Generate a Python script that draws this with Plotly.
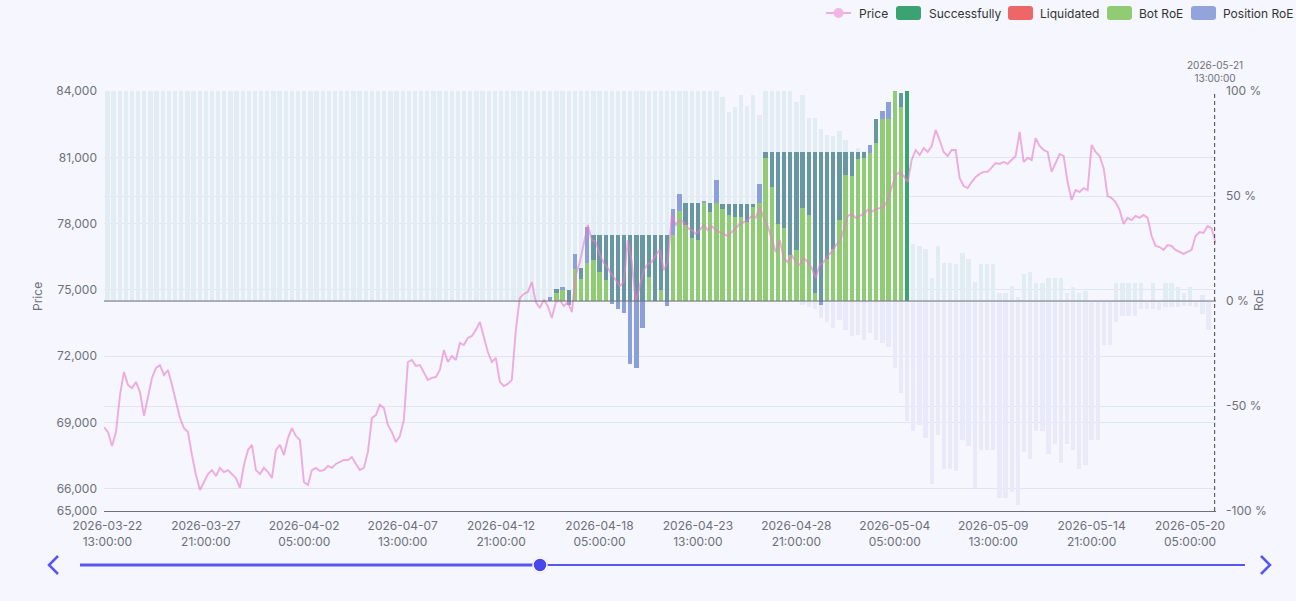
import pandas as pd
import plotly.graph_objects as go

BG = '#f5f6fe'
AXIS = '#6e7079'
GRID = '#e0e6f1'
FONT = 'Inter'

# ---------------- data ----------------
# one slot every 8 hours
slot_start = '2026-03-22 13:00'
n_slots = 181

# faded (background) RoE bars, percent, index = slot
bg_pos = [100] * 100 + [
    97, 90, 92.5, 98, 93, 98, 88.6, 100, 100, 100, 100, 100, 95, 98, 87, 87, 82, 79, 78.6, 81,
    76.7, 71.6, 72.7, 71.6, 74,
    None, None, None, None, None, None,
    27, 26, 25, 11, 26, 18, 18, 17.5, 23, 20, 9, 17.5, 17.5, 17.5, 4, 4, 7, 2, 13, 14,
    8.6, 8.6, 11, 11, 11, 4, 6.6, 4, 5,
    None, None, None, None, 8.6, 8.6, 8.6, 8.6, 8.6, None, 8.6, None, 8.6, 8.6, 6.6, 4, 6.6,
    None, 3, None, None]
bg_neg = [None] * 113 + [
    -2, -3, -4, -8, -10, -12.9, -9, -13.8, -16.7, -16, -18.6, -15, -18.6, -20, -22, -32, -44,
    -57, -62, -59, -65, -87, -64, -80, -80, -81, -66, -69, -89, -71, -71, -71, -94, -94, -91,
    -97, -72, -75, -62, -62, -73, -68, -77, -68, -71, -80, -78, -66, -66, -21, -21, -10, -7,
    -7, -7, -4, -4, -4, -4.5, -3, -3, -3, -2.5, -2.5, -3, -6, -14, None]

# active bots: slots 72 .. 130
active_first = 72
bot_roe = [None, 4.0, 5.2, None, 15.2, 10.5, 18, 19.5, 13.7, 10, None, None, None, None, None,
           None, 11.6, None, 5.2, None, 31.4, 43, 36, 30, 29, 46.5, 42.5, 46.5, 43.7, 41, 40,
           39.8, 37.6, 45, 46.7, 68.2, 54.4, 36.7, 34.6, 21.9, 24.3, 44.1, 41, 3.7, None, 19.8,
           24.6, 38.6, 60, 59.5, 67.5, 68.2, 70.6, 75.4, 86.5, 86.5, 100, 92.5, None]
overlap_roe = [None, 5.6, None, 5.2, None, 15.5, None] + [31.5] * 13 + [None, None, 46.5, 46.5,
               46.5, None, 46.5, None] + [46.3] * 6 + [None] + [71] * 17 + [None, 86.7, None,
               None, None, 98.9, None]
position_roe = [2, None, 6.5, -2, 22.2, None, 35.4, None, None, None, -1.6, -3.8, -5.9, -30, -32,
                -13, None, None, None, -2.4, 44, 51, None, None, None, 47.8, None, 57.6] + \
               [None] * 6 + [55.7] + [None] * 9 + [-2] + [None] * 7 + \
               [74.3, None, 90.5, 94.8, None, None, None]
success_slot = ['2026-05-04 21:00']
success_roe = [100]

# price, sampled every 312 minutes
price_start = '2026-03-22 08:35'
price_values = [
    68800, 68570, 67940, 68570, 70250, 71290, 70700, 70560, 70840, 70380,
    69300, 70110, 71020, 71470, 71600, 71150, 71380, 70700, 70020, 69210,
    68750, 68570, 67530, 66630, 65950, 66310, 66670, 66850, 66580, 66950,
    66760, 66850, 66670, 66490, 66040, 67080, 67760, 67990, 66850, 66670,
    66950, 66760, 66490, 67760, 67990, 67530, 68300, 68750, 68390, 68210,
    66310, 66180, 66850, 66950, 66810, 66850, 67040, 66950, 67130, 67220,
    67310, 67310, 67440, 67130, 66850, 66950, 67670, 69210, 69340, 69800,
    69660, 68890, 68570, 68120, 68390, 69120, 71740, 71830, 71560, 71600,
    71290, 70930, 71020, 71060, 71380, 72280, 71740, 72010, 71830, 72600,
    72510, 72830, 72920, 73190, 73550, 72830, 72190, 71740, 71920, 70840,
    70650, 70750, 70930, 73190, 74640, 74820, 74910, 75360, 74450, 74180,
    74550, 74270, 73730, 74450, 74550, 74270, 74450, 74000, 75680, 76260,
    77030, 77940, 77260, 77170, 76580, 76220, 75990, 75680, 75450, 75180,
    75360, 77260, 76260, 74450, 75180, 75900, 76170, 76260, 76580, 76810,
    75900, 76260, 78390, 77940, 78160, 78070, 77800, 77710, 77530, 77710,
    77940, 77710, 77890, 77710, 77620, 77530, 77440, 77620, 77800, 77980,
    78070, 78160, 78350, 78260, 78750, 78260, 77890, 77260, 76720, 77260,
    76450, 76260, 76580, 76260, 76130, 76450, 76260, 75990, 75540, 76130,
    76260, 76540, 76720, 77030, 77170, 77710, 78350, 78440, 78260, 78350,
    78440, 78620, 78530, 78660, 78710, 78750, 79070, 79610, 80200, 80340,
    80160, 79880, 80880, 81330, 81100, 81420, 81240, 81510, 82240, 81780,
    81240, 81060, 81330, 81330, 80060, 79700, 79610, 79880, 80110, 80250,
    80340, 80340, 80520, 80740, 80700, 80790, 80700, 80880, 81060, 82150,
    80790, 80970, 80880, 81870, 81510, 81330, 81240, 80340, 80790, 81150,
    81060, 79880, 79070, 79520, 79430, 79610, 79520, 81560, 81240, 81060,
    80520, 79250, 79160, 78980, 78620, 77980, 78260, 78160, 78350, 78260,
    78390, 78260, 77440, 76990, 76940, 76810, 77030, 76990, 76810, 76720,
    76630, 76720, 76810, 77440, 77620, 77580, 77890, 77800, 77120]

x_tick_labels = ['2026-03-22 13:00:00', '2026-03-27 21:00:00', '2026-04-02 05:00:00',
                 '2026-04-07 13:00:00', '2026-04-12 21:00:00', '2026-04-18 05:00:00',
                 '2026-04-23 13:00:00', '2026-04-28 21:00:00', '2026-05-04 05:00:00',
                 '2026-05-09 13:00:00', '2026-05-14 21:00:00', '2026-05-20 05:00:00']
price_ticks = [65000, 66000, 69000, 72000, 75000, 78000, 81000, 84000]
roe_ticks = [-100, -50, 0, 50, 100]
now_time = '2026-05-21 13:00:00'

# ---------------- build ----------------
slots = pd.date_range(slot_start, periods=n_slots, freq='8h')
active = slots[active_first:active_first + len(bot_roe)]
price_times = pd.date_range(price_start, periods=len(price_values), freq='312min')
assert len(bg_pos) == n_slots and len(bg_neg) == n_slots
assert len(overlap_roe) == len(bot_roe) == len(position_roe)

BW = 8 * 3600 * 1000 * 0.7

fig = go.Figure()


def bar(x, y, color, name):
    fig.add_trace(go.Bar(x=x, y=y, width=BW, marker=dict(color=color, line=dict(width=0)),
                         name=name, showlegend=False, yaxis='y'))


bar(slots, bg_pos, 'rgb(226,237,243)', 'Bot RoE (range)')
bar(slots, bg_neg, 'rgb(232,234,249)', 'Position RoE (range)')
bar(active, position_roe, 'rgb(139,159,219)', 'Position RoE')
bar(active, overlap_roe, 'rgb(104,150,161)', 'Bot RoE / Position RoE')
bar(active, bot_roe, 'rgb(145,204,117)', 'Bot RoE')
bar(pd.to_datetime(success_slot), success_roe, '#3ba272', 'Successfully')

fig.add_trace(go.Scatter(x=price_times, y=price_values, mode='lines', name='Price',
                         line=dict(color='rgba(234,124,204,0.62)', width=1.9),
                         yaxis='y2', showlegend=False))

tickvals = pd.to_datetime(x_tick_labels)
ticktext = [t.replace(' ', '<br>') for t in x_tick_labels]

fig.update_layout(
    width=1296, height=601,
    margin=dict(l=104, r=80, t=91, b=90),
    paper_bgcolor=BG, plot_bgcolor=BG,
    font=dict(family=FONT, size=12, color=AXIS),
    barmode='overlay', bargap=0, showlegend=False,
    xaxis=dict(type='date', range=['2026-03-22 08:35', '2026-05-21 14:45'],
               tickvals=tickvals, ticktext=ticktext, showgrid=False, zeroline=False,
               showline=True, linecolor=AXIS, linewidth=1, ticks='', ticklabelstandoff=4,
               tickfont=dict(size=12, color=AXIS)),
    yaxis=dict(side='right', range=[-100, 100], tickvals=roe_ticks,
               ticktext=[f'{v} %' for v in roe_ticks], showgrid=True, gridcolor=GRID,
               zeroline=False, ticks='', ticklabelstandoff=9, fixedrange=True),
    yaxis2=dict(side='left', overlaying='y', range=[65000, 84000], tickvals=price_ticks,
                tickformat=',', showgrid=True, gridcolor=GRID, zeroline=False, ticks='',
                ticklabelstandoff=6),
)


def px(x):
    return (x - 104) / 1112


def py(y):
    return (511 - y) / 420


shapes = []
# zero line of RoE axis (on top of bars)
shapes.append(dict(type='line', xref='paper', yref='y', x0=0, x1=1, y0=0, y1=0,
                   line=dict(color=AXIS, width=1), layer='above'))
# "now" marker
shapes.append(dict(type='line', xref='x', yref='paper', x0=now_time, x1=now_time,
                   y0=0, y1=py(92), line=dict(color='#444', width=1, dash='4px,3px'),
                   layer='above'))


def rrect(x0, y0, x1, y1, r, color):
    X0, X1, Y0, Y1 = px(x0), px(x1), py(y0), py(y1)
    rx, ry = r / 1112, r / 420
    path = (f'M{X0 + rx},{Y0} L{X1 - rx},{Y0} Q{X1},{Y0} {X1},{Y0 - ry} '
            f'L{X1},{Y1 + ry} Q{X1},{Y1} {X1 - rx},{Y1} L{X0 + rx},{Y1} '
            f'Q{X0},{Y1} {X0},{Y1 + ry} L{X0},{Y0 - ry} Q{X0},{Y0} {X0 + rx},{Y0} Z')
    return dict(type='path', xref='paper', yref='paper', path=path, fillcolor=color,
                line=dict(width=0), layer='above')


annotations = []
# legend
legend_items = [('Price', None, 826, 857), ('Successfully', '#3ba272', 896, 927),
                ('Liquidated', '#ee6666', 1008, 1038), ('Bot RoE', '#91cc75', 1107, 1137),
                ('Position RoE', '#93a4dd', 1191, 1221)]
for label, color, ix, tx in legend_items:
    if color is None:
        shapes.append(dict(type='line', xref='paper', yref='paper', x0=px(ix), x1=px(ix + 25),
                           y0=py(13), y1=py(13), line=dict(color='rgba(234,124,204,0.6)', width=2)))
        shapes.append(dict(type='circle', xref='paper', yref='paper', x0=px(ix + 7.5),
                           x1=px(ix + 17.5), y0=py(18), y1=py(8),
                           fillcolor='rgb(242,180,230)', line=dict(width=0)))
    else:
        shapes.append(rrect(ix, 6, ix + 25, 20, 3, color))
    annotations.append(dict(text=label, xref='paper', yref='paper', x=px(tx), y=py(13),
                            xanchor='left', yanchor='middle', showarrow=False,
                            font=dict(family=FONT, size=12, color='#333')))

# axis names
annotations.append(dict(text='Price', xref='paper', yref='paper', x=px(37), y=py(297),
                        textangle=-90, showarrow=False, xanchor='center', yanchor='middle',
                        font=dict(family=FONT, size=12, color=AXIS)))
annotations.append(dict(text='RoE', xref='paper', yref='paper', x=px(1258), y=py(300),
                        textangle=-90, showarrow=False, xanchor='center', yanchor='middle',
                        font=dict(family=FONT, size=12, color=AXIS)))
# now label
annotations.append(dict(text='2026-05-21<br>13:00:00', xref='x', yref='paper', x=now_time,
                        y=py(86), xanchor='center', yanchor='bottom', showarrow=False,
                        font=dict(family=FONT, size=10, color=AXIS)))

# timeline slider (decoration)
SL = '#5656f4'
shapes.append(dict(type='path', xref='paper', yref='paper',
                   path=f'M{px(58)},{py(556)} L{px(49)},{py(565)} L{px(58)},{py(574)}',
                   line=dict(color=SL, width=2.5)))
shapes.append(dict(type='path', xref='paper', yref='paper',
                   path=f'M{px(1261)},{py(556)} L{px(1270)},{py(565)} L{px(1261)},{py(574)}',
                   line=dict(color=SL, width=2.5)))
shapes.append(dict(type='line', xref='paper', yref='paper', x0=px(80), x1=px(540),
                   y0=py(565), y1=py(565), line=dict(color=SL, width=3)))
shapes.append(dict(type='line', xref='paper', yref='paper', x0=px(540), x1=px(1245),
                   y0=py(565), y1=py(565), line=dict(color=SL, width=2)))
shapes.append(dict(type='circle', xref='paper', yref='paper', x0=px(532), x1=px(548),
                   y0=py(573), y1=py(557), fillcolor='rgba(0,0,0,0.12)', line=dict(width=0)))
shapes.append(dict(type='circle', xref='paper', yref='paper', x0=px(533), x1=px(547),
                   y0=py(572), y1=py(558), fillcolor='#4747ea',
                   line=dict(color='white', width=1.5)))

fig.update_layout(shapes=shapes, annotations=annotations)
fig.write_html('out.html')
